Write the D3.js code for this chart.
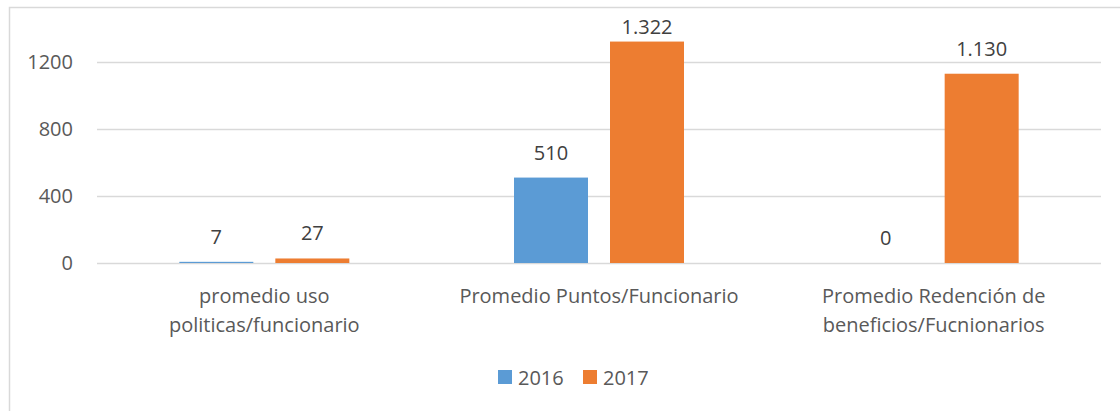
<!DOCTYPE html>
<html><head><meta charset="utf-8">
<script src="https://cdn.jsdelivr.net/npm/d3@7"></script>
<style>html,body{margin:0;padding:0;background:#fff;}svg{display:block;}</style>
</head><body>
<svg id="c" width="1120" height="411"></svg>
<script>
const categories = [["promedio uso","politicas/funcionario"],["Promedio Puntos/Funcionario"],["Promedio Redención de","beneficios/Fucnionarios"]];
const seriesNames = ["2016","2017"];
const values2016 = [7, 510, 0];
const values2017 = [27, 1322, 1130];
const yTicks = [0, 400, 800, 1200];
const colors = ["#5B9BD5","#ED7D31"];

const svg = d3.select("#c");
const font = "'Open Sans', sans-serif";
const fs = 20;
// chart border
svg.append("path").attr("d","M9.5,411 L9.5,7.5 L1120,7.5").attr("fill","none").attr("stroke","#D9D9D9").attr("stroke-width",1.5);

const x = d3.scaleBand().domain(d3.range(categories.length)).range([97,1101]);
const y = d3.scaleLinear().domain([0,1400]).range([263,28.5]);
const xs = d3.scaleBand().domain(seriesNames).range([x.bandwidth()/2-85, x.bandwidth()/2+85]).paddingInner(22/96);

// gridlines
svg.append("g").selectAll("line").data(yTicks).join("line")
  .attr("x1",97).attr("x2",1101).attr("y1",d=>Math.round(y(d))+0.5).attr("y2",d=>Math.round(y(d))+0.5)
  .attr("stroke","#D9D9D9").attr("stroke-width",1.3);

// y axis
const ya = svg.append("g").attr("transform","translate(80,0)").call(d3.axisLeft(y).tickValues(yTicks).tickSize(0).tickPadding(7).tickFormat(d3.format("d")));
ya.select(".domain").remove();
ya.selectAll("text").attr("font-family",font).attr("font-size",fs).attr("fill","#595959");

const fmt = d3.formatLocale({decimal:",",thousands:".",grouping:[3],currency:["",""]}).format(",d");
const series = [values2016, values2017];
series.forEach((vals,si)=>{
  const g = svg.append("g");
  g.selectAll("rect").data(vals).join("rect")
    .attr("x",(d,i)=>x(i)+xs(seriesNames[si]))
    .attr("width",xs.bandwidth())
    .attr("y",d=>y(d)).attr("height",d=>y(0)-y(d))
    .attr("fill",colors[si]);
  g.selectAll("text").data(vals).join("text")
    .attr("x",(d,i)=>x(i)+xs(seriesNames[si])+xs.bandwidth()/2)
    .attr("y",d=>Math.max(y(d)-18,34))
    .attr("text-anchor","middle").attr("font-family",font).attr("font-size",fs).attr("fill","#404040")
    .text(d=>fmt(d));
});

// category labels
const cl = svg.append("g");
categories.forEach((lines,i)=>{
  const t = cl.append("text").attr("text-anchor","middle").attr("font-family",font).attr("font-size",fs).attr("fill","#595959");
  lines.forEach((ln,j)=>{
    t.append("tspan").attr("x",x(i)+x.bandwidth()/2).attr("y",303+j*29).text(ln);
  });
});

// legend
const lg = svg.append("g");
const lx = [498, 583];
seriesNames.forEach((s,i)=>{
  lg.append("rect").attr("x",lx[i]).attr("y",370).attr("width",14).attr("height",14).attr("fill",colors[i]);
  lg.append("text").attr("x",lx[i]+20).attr("y",385).attr("font-family",font).attr("font-size",fs).attr("fill","#595959").text(s);
});
</script>
</body></html>
